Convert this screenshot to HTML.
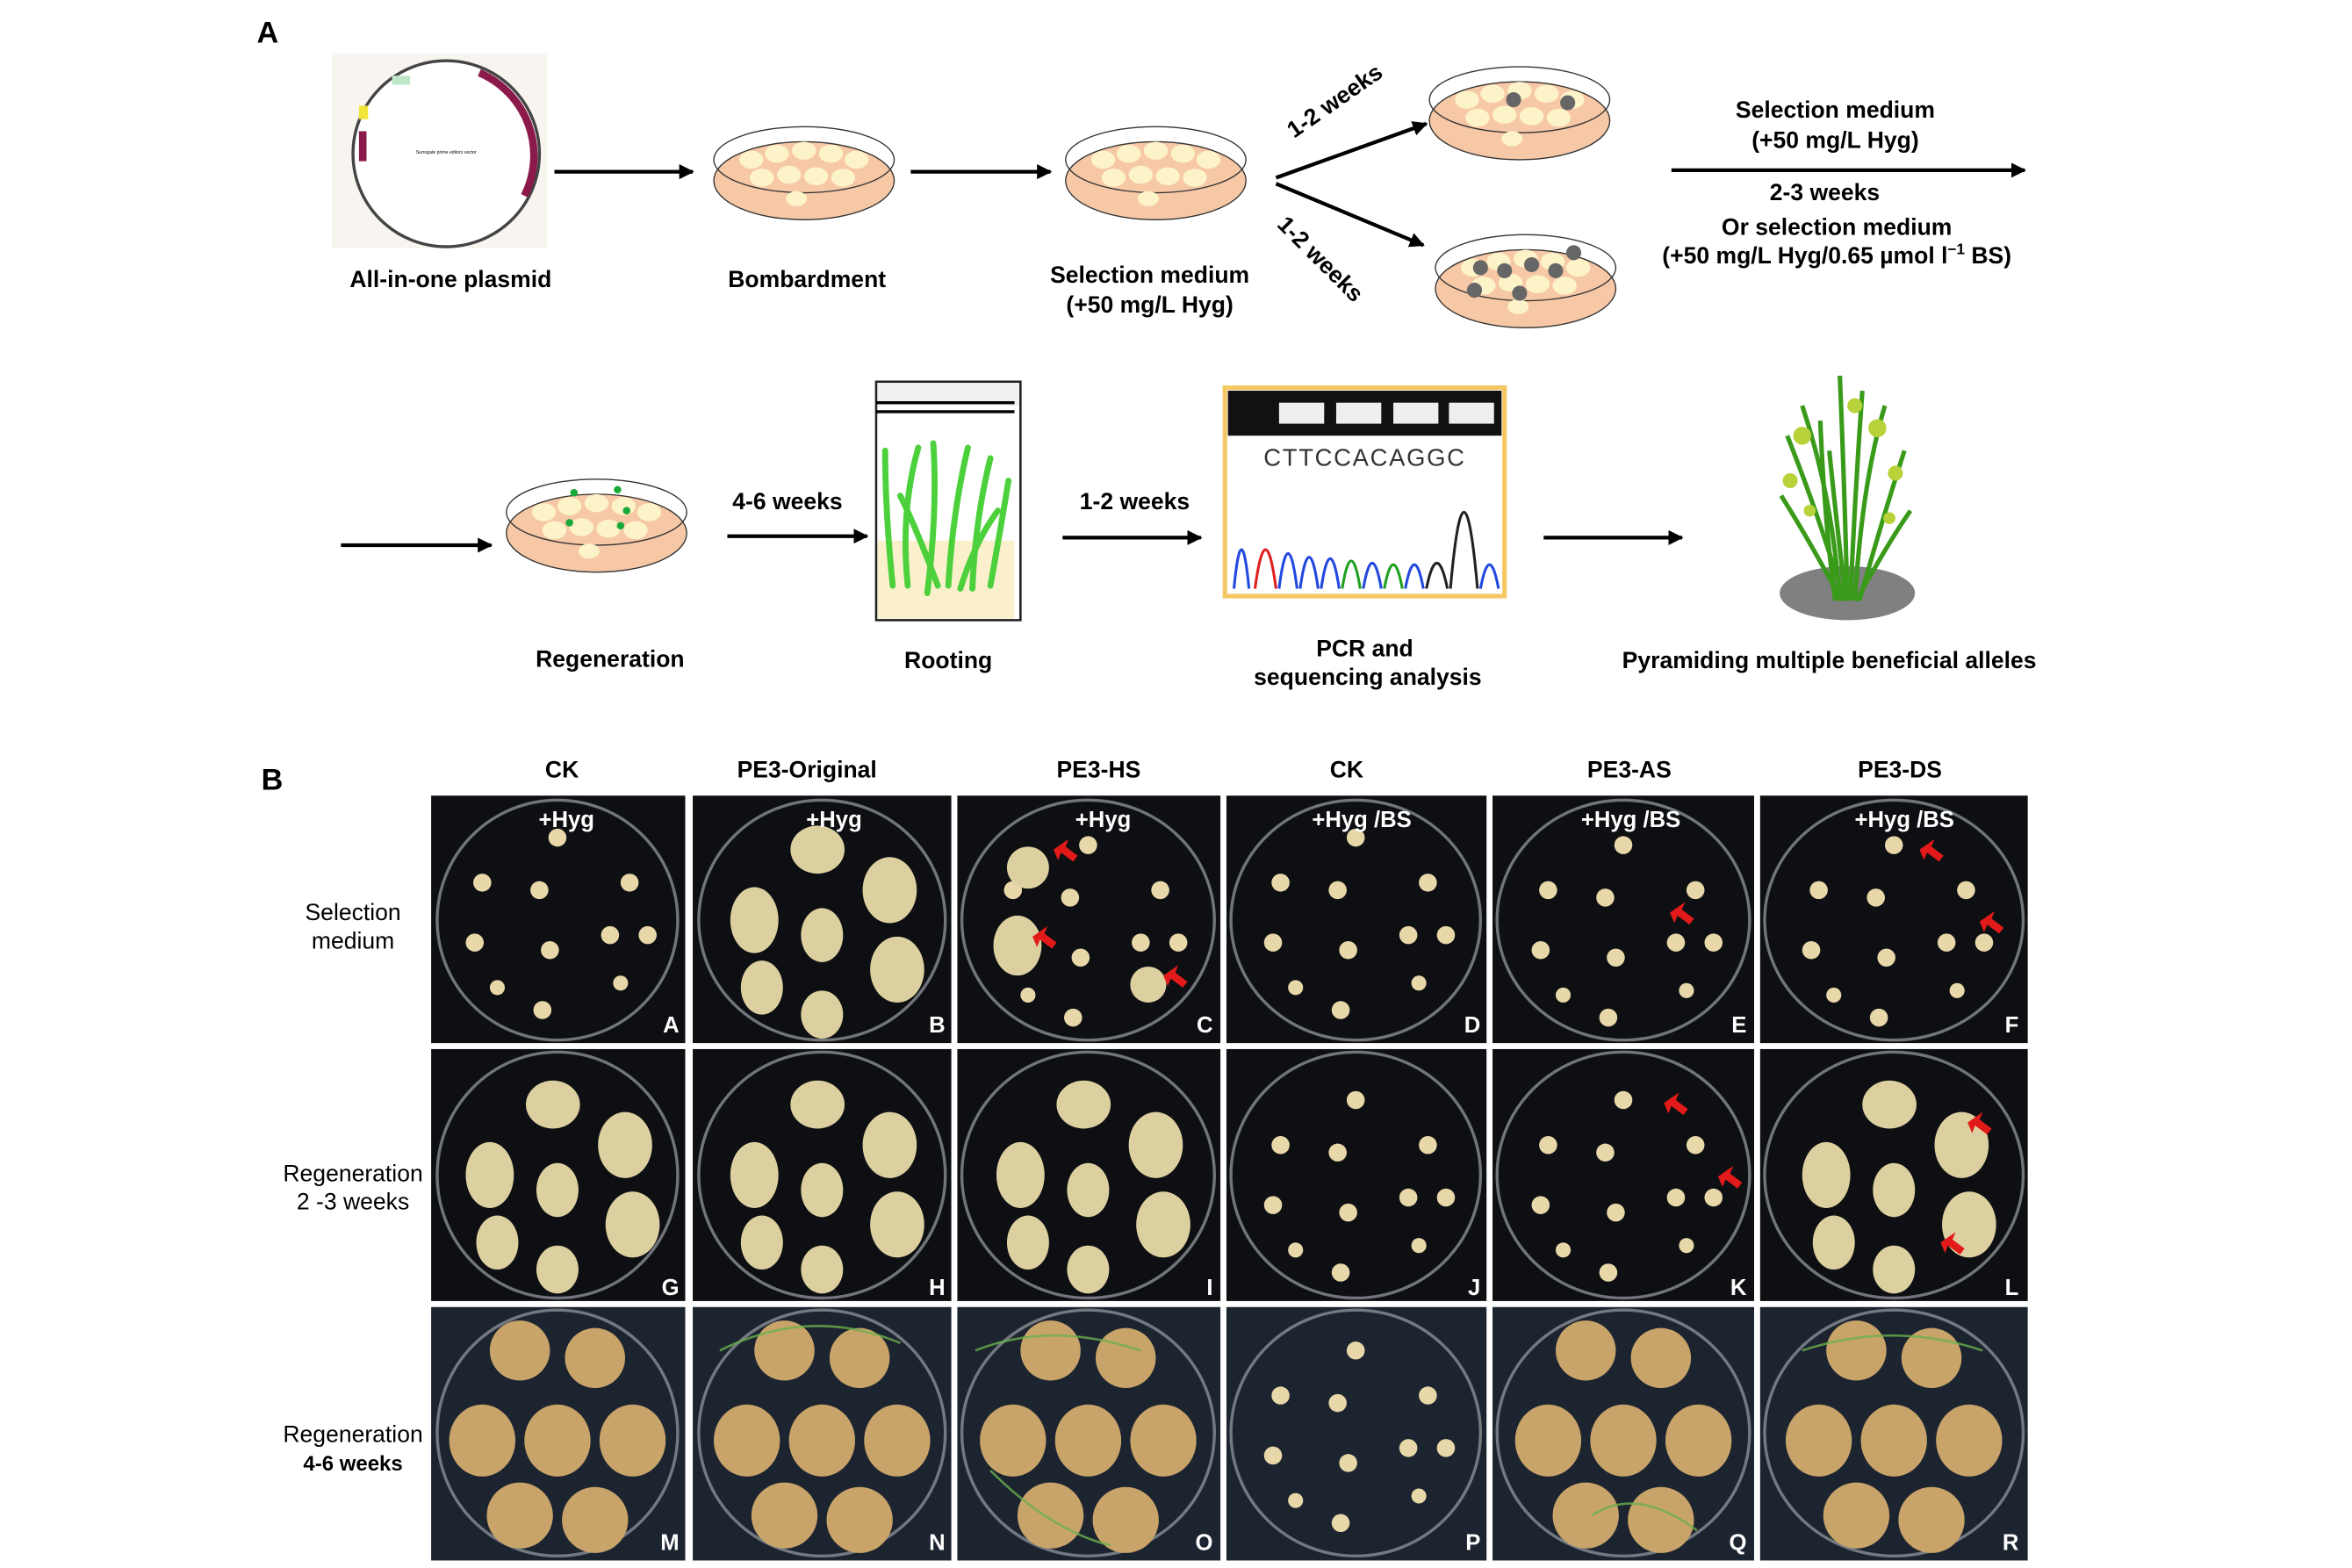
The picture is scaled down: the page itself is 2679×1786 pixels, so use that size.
<!DOCTYPE html>
<html><head><meta charset="utf-8"><style>
html,body{margin:0;padding:0;background:#fff}
svg{display:block}
text{font-family:"Liberation Sans",Arial,sans-serif}
.b{font-weight:bold;font-size:15.5px}
.r{font-size:15.5px}
</style></head><body>
<svg width="2679" height="1786" viewBox="1.2 -0.5 1564.5 1045.5" preserveAspectRatio="none" xmlns="http://www.w3.org/2000/svg">
<defs>
<marker id="ah" markerWidth="10" markerHeight="10" refX="9" refY="5" orient="auto" markerUnits="userSpaceOnUse"><path d="M0,0 L10,5 L0,10 Z" fill="#000"/></marker>
<g id="dish">
<ellipse cx="0" cy="8" rx="60" ry="26" fill="#f6c8a6" stroke="#333" stroke-width="0.8"/>
<ellipse cx="0" cy="-6" rx="60" ry="22" fill="none" stroke="#333" stroke-width="0.8"/>
</g>
<g id="cal" fill="#fdf3c8">
<ellipse cx="-35" cy="-2" rx="8" ry="6"/><ellipse cx="-18" cy="-6" rx="8" ry="6"/><ellipse cx="0" cy="-8" rx="8" ry="6"/><ellipse cx="18" cy="-6" rx="8" ry="6"/><ellipse cx="35" cy="-2" rx="8" ry="6"/>
<ellipse cx="-28" cy="10" rx="8" ry="6"/><ellipse cx="-10" cy="8" rx="8" ry="6"/><ellipse cx="8" cy="9" rx="8" ry="6"/><ellipse cx="26" cy="10" rx="8" ry="6"/>
<ellipse cx="-5" cy="24" rx="7" ry="5"/>
</g>
<g id="blobS" fill="#e8d7a8">
<circle cx="0" cy="-55" r="6"/><circle cx="-50" cy="-25" r="6"/><circle cx="-12" cy="-20" r="6"/><circle cx="48" cy="-25" r="6"/>
<circle cx="-55" cy="15" r="6"/><circle cx="35" cy="10" r="6"/><circle cx="60" cy="10" r="6"/><circle cx="-5" cy="20" r="6"/>
<circle cx="-40" cy="45" r="5"/><circle cx="42" cy="42" r="5"/><circle cx="-10" cy="60" r="6"/>
</g>
<g id="blobL" fill="#ddd0a0">
<ellipse cx="-3" cy="-52" rx="18" ry="16"/><ellipse cx="-45" cy="-5" rx="16" ry="22"/><ellipse cx="45" cy="-25" rx="18" ry="22"/>
<ellipse cx="0" cy="5" rx="14" ry="18"/><ellipse cx="-40" cy="40" rx="14" ry="18"/><ellipse cx="50" cy="28" rx="18" ry="22"/><ellipse cx="0" cy="58" rx="14" ry="16"/>
</g>
<g id="blobR" fill="#c9a46a">
<ellipse cx="-25" cy="-55" rx="20" ry="20"/><ellipse cx="25" cy="-50" rx="20" ry="20"/><ellipse cx="-50" cy="5" rx="22" ry="24"/>
<ellipse cx="0" cy="5" rx="22" ry="24"/><ellipse cx="50" cy="5" rx="22" ry="24"/><ellipse cx="-25" cy="55" rx="22" ry="22"/><ellipse cx="25" cy="58" rx="22" ry="22"/>
</g>
<g id="arr" fill="#e31a1a"><path d="M0,0 L10,-7 L8,-2 L16,4 L13,8 L5,2 L3,7 Z"/></g>
</defs>

<!-- Part A -->
<text x="172" y="28" font-size="20" font-weight="bold">A</text>
<rect x="222" y="35" width="143" height="130" fill="#f8f5f0"/>
<ellipse cx="298" cy="102" rx="62" ry="62" fill="#fff" stroke="#444" stroke-width="2"/>
<path d="M320,48 A60,60 0 0 1 350,130" fill="none" stroke="#8b1a4a" stroke-width="5"/>
<rect x="240" y="87" width="5" height="20" fill="#8b1a4a"/>
<rect x="240" y="70" width="6" height="9" fill="#f3e53a"/>
<rect x="262" y="50" width="12" height="6" fill="#bfe8c8"/>
<text x="298" y="102" font-size="3" text-anchor="middle">Surrogate prime editors vector</text>
<line x1="370" y1="114" x2="462" y2="114" stroke="#000" stroke-width="2.5" marker-end="url(#ah)"/>
<use href="#dish" x="536" y="112"/><use href="#cal" x="536" y="108"/>
<line x1="607" y1="114" x2="700" y2="114" stroke="#000" stroke-width="2.5" marker-end="url(#ah)"/>
<use href="#dish" x="770" y="112"/><use href="#cal" x="770" y="108"/>
<line x1="850" y1="118" x2="950" y2="82" stroke="#000" stroke-width="2.5" marker-end="url(#ah)"/>
<line x1="850" y1="122" x2="948" y2="163" stroke="#000" stroke-width="2.5" marker-end="url(#ah)"/>
<text class="b" transform="translate(862,92) rotate(-35)">1-2 weeks</text>
<text class="b" transform="translate(850,150) rotate(45)">1-2 weeks</text>
<use href="#dish" x="1012" y="72"/><use href="#cal" x="1012" y="68"/>
<circle cx="1008" cy="66" r="5" fill="#666"/><circle cx="1044" cy="68" r="5" fill="#666"/>
<use href="#dish" x="1016" y="184"/><use href="#cal" x="1016" y="180"/>
<g fill="#666"><circle cx="986" cy="178" r="5"/><circle cx="1002" cy="180" r="5"/><circle cx="1020" cy="176" r="5"/><circle cx="1036" cy="180" r="5"/><circle cx="982" cy="193" r="5"/><circle cx="1012" cy="195" r="5"/><circle cx="1048" cy="168" r="5"/></g>
<line x1="1113" y1="113" x2="1348" y2="113" stroke="#000" stroke-width="2.5" marker-end="url(#ah)"/>
<text class="b" x="1222" y="78" text-anchor="middle">Selection  medium</text>
<text class="b" x="1222" y="98" text-anchor="middle">(+50 mg/L Hyg)</text>
<text class="b" x="1215" y="133" text-anchor="middle">2-3 weeks</text>
<text class="b" x="1223" y="156" text-anchor="middle">Or selection  medium</text>
<text class="b" x="1223" y="175" text-anchor="middle">(+50 mg/L Hyg/0.65 µmol l<tspan dy="-6" font-size="10">−1</tspan><tspan dy="6"> BS)</tspan></text>
<text class="b" x="301" y="191" text-anchor="middle">All-in-one plasmid</text>
<text class="b" x="538" y="191" text-anchor="middle">Bombardment</text>
<text class="b" x="766" y="188" text-anchor="middle">Selection  medium</text>
<text class="b" x="766" y="208" text-anchor="middle">(+50 mg/L Hyg)</text>

<line x1="228" y1="363" x2="328" y2="363" stroke="#000" stroke-width="2.5" marker-end="url(#ah)"/>
<use href="#dish" x="398" y="347"/><use href="#cal" x="398" y="343"/>
<g fill="#1aa838"><circle cx="383" cy="328" r="2.5"/><circle cx="412" cy="326" r="2.5"/><circle cx="418" cy="340" r="2.5"/><circle cx="380" cy="348" r="2.5"/><circle cx="414" cy="350" r="2.5"/></g>
<text class="b" x="525" y="339" text-anchor="middle">4-6 weeks</text>
<line x1="485" y1="357" x2="578" y2="357" stroke="#000" stroke-width="2.5" marker-end="url(#ah)"/>
<rect x="584" y="254" width="96" height="159" fill="#fff" stroke="#222" stroke-width="1.5"/>
<rect x="585" y="255" width="94" height="15" fill="#f0f0f0"/>
<line x1="584" y1="268" x2="676" y2="268" stroke="#000" stroke-width="2"/>
<line x1="584" y1="274" x2="676" y2="274" stroke="#000" stroke-width="2"/>
<rect x="585" y="360" width="91" height="52" fill="#fbf0cc"/>
<g stroke="#4cd13c" stroke-width="4" fill="none" stroke-linecap="round">
<path d="M595,390 Q590,340 590,300"/><path d="M605,390 Q600,340 612,298"/><path d="M618,395 Q625,340 622,295"/><path d="M632,390 Q635,340 645,298"/><path d="M648,392 Q650,345 660,305"/><path d="M660,390 Q668,345 672,320"/><path d="M625,390 Q610,350 600,330"/><path d="M640,392 Q650,360 665,340"/>
</g>
<text class="b" x="756" y="339" text-anchor="middle">1-2 weeks</text>
<line x1="708" y1="358" x2="800" y2="358" stroke="#000" stroke-width="2.5" marker-end="url(#ah)"/>
<rect x="816" y="258" width="186" height="139" fill="#fff" stroke="#f5c760" stroke-width="3"/>
<rect x="818" y="260" width="182" height="30" fill="#111"/>
<g fill="#eee"><rect x="852" y="268" width="30" height="14"/><rect x="890" y="268" width="30" height="14"/><rect x="928" y="268" width="30" height="14"/><rect x="965" y="268" width="30" height="14"/></g>
<text x="909" y="310" font-size="16" font-family="Liberation Mono" text-anchor="middle" fill="#333" letter-spacing="1">CTTCCACAGGC</text>
<g fill="none" stroke-width="1.8">
<path d="M822,392 Q827,340 832,392" stroke="#2248e0"/><path d="M836,392 Q843,340 850,392" stroke="#e02020"/><path d="M852,392 Q858,345 864,392" stroke="#2248e0"/><path d="M866,392 Q872,350 878,392" stroke="#2248e0"/><path d="M880,392 Q886,352 892,392" stroke="#2248e0"/><path d="M894,392 Q900,355 906,392" stroke="#20a020"/><path d="M908,392 Q914,358 920,392" stroke="#2248e0"/><path d="M922,392 Q928,360 934,392" stroke="#20a020"/><path d="M936,392 Q942,360 948,392" stroke="#2248e0"/><path d="M950,392 Q957,358 964,392" stroke="#222"/><path d="M966,392 Q975,290 984,392" stroke="#222"/><path d="M986,392 Q992,360 998,392" stroke="#2248e0"/>
</g>
<line x1="1028" y1="358" x2="1120" y2="358" stroke="#000" stroke-width="2.5" marker-end="url(#ah)"/>
<ellipse cx="1230" cy="395" rx="45" ry="18" fill="#808080"/>
<g stroke="#3a9a1a" stroke-width="3" fill="none">
<path d="M1225,400 Q1220,330 1200,270"/><path d="M1230,400 Q1228,320 1225,250"/><path d="M1235,400 Q1240,320 1255,270"/><path d="M1228,400 Q1210,340 1190,290"/><path d="M1238,400 Q1255,340 1268,300"/><path d="M1232,400 Q1235,330 1240,260"/><path d="M1222,400 Q1215,350 1212,280"/>
<path d="M1226,400 Q1205,360 1186,330"/><path d="M1236,400 Q1258,360 1272,340"/><path d="M1229,400 Q1222,340 1218,300"/>
</g>
<g fill="#b8d23a"><circle cx="1200" cy="290" r="6"/><circle cx="1250" cy="285" r="6"/><circle cx="1262" cy="315" r="5"/><circle cx="1192" cy="320" r="5"/><circle cx="1235" cy="270" r="5"/><circle cx="1205" cy="340" r="4"/><circle cx="1258" cy="345" r="4"/></g>
<text class="b" x="407" y="444" text-anchor="middle">Regeneration</text>
<text class="b" x="632" y="445" text-anchor="middle">Rooting</text>
<text class="b" x="909" y="437" text-anchor="middle">PCR and</text>
<text class="b" x="911" y="456" text-anchor="middle">sequencing analysis</text>
<text class="b" x="1218" y="445" text-anchor="middle">Pyramiding multiple beneficial alleles</text>

<!-- Part B -->
<text x="175" y="526" font-size="20" font-weight="bold">B</text>
<g class="b" text-anchor="middle">
<text x="375" y="518">CK</text><text x="538" y="518">PE3-Original</text><text x="732" y="518">PE3-HS</text><text x="897" y="518">CK</text><text x="1085" y="518">PE3-AS</text><text x="1265" y="518">PE3-DS</text>
</g>
<g class="r" text-anchor="middle">
<text x="236" y="613">Selection</text><text x="236" y="632">medium</text>
<text x="236" y="787">Regeneration</text><text x="236" y="806">2 -3 weeks</text>
<text x="236" y="961">Regeneration</text><text x="236" y="980" font-weight="bold" font-size="14">4-6 weeks</text>
</g>

<!-- grid photos -->
<g fill="#0d0f12">
<rect x="288" y="530" width="169" height="165"/><rect x="462" y="530" width="172" height="165"/><rect x="638" y="530" width="175" height="165"/><rect x="817" y="530" width="173" height="165"/><rect x="994" y="530" width="174" height="165"/><rect x="1172" y="530" width="178" height="165"/>
<rect x="288" y="699" width="169" height="168"/><rect x="462" y="699" width="172" height="168"/><rect x="638" y="699" width="175" height="168"/><rect x="817" y="699" width="173" height="168"/><rect x="994" y="699" width="174" height="168"/><rect x="1172" y="699" width="178" height="168"/>
</g>
<g fill="#1c2430">
<rect x="288" y="871" width="169" height="169"/><rect x="462" y="871" width="172" height="169"/><rect x="638" y="871" width="175" height="169"/><rect x="817" y="871" width="173" height="169"/><rect x="994" y="871" width="174" height="169"/><rect x="1172" y="871" width="178" height="169"/>
</g>
<g fill="none" stroke="#8a8f95" stroke-width="2" opacity="0.8">
<ellipse cx="372" cy="613" rx="80" ry="80"/><ellipse cx="548" cy="613" rx="82" ry="80"/><ellipse cx="725" cy="613" rx="84" ry="80"/><ellipse cx="903" cy="613" rx="83" ry="80"/><ellipse cx="1081" cy="613" rx="84" ry="80"/><ellipse cx="1261" cy="613" rx="86" ry="80"/>
<ellipse cx="372" cy="783" rx="80" ry="82"/><ellipse cx="548" cy="783" rx="82" ry="82"/><ellipse cx="725" cy="783" rx="84" ry="82"/><ellipse cx="903" cy="783" rx="83" ry="82"/><ellipse cx="1081" cy="783" rx="84" ry="82"/><ellipse cx="1261" cy="783" rx="86" ry="82"/>
<ellipse cx="372" cy="955" rx="80" ry="82"/><ellipse cx="548" cy="955" rx="82" ry="82"/><ellipse cx="725" cy="955" rx="84" ry="82"/><ellipse cx="903" cy="955" rx="83" ry="82"/><ellipse cx="1081" cy="955" rx="84" ry="82"/><ellipse cx="1261" cy="955" rx="86" ry="82"/>
</g>
<use href="#blobS" x="372" y="613"/><use href="#blobL" x="548" y="618"/><use href="#blobS" x="725" y="618"/><use href="#blobS" x="903" y="613"/><use href="#blobS" x="1081" y="618"/><use href="#blobS" x="1261" y="618"/>
<g fill="#ddd0a0"><ellipse cx="685" cy="578" rx="14" ry="14"/><ellipse cx="678" cy="630" rx="16" ry="20"/><ellipse cx="765" cy="656" rx="12" ry="12"/></g>
<use href="#blobL" x="372" y="788"/><use href="#blobL" x="548" y="788"/><use href="#blobL" x="725" y="788"/><use href="#blobS" x="903" y="788"/><use href="#blobS" x="1081" y="788"/><use href="#blobL" x="1261" y="788"/>
<use href="#blobR" x="372" y="955"/><use href="#blobR" x="548" y="955"/><use href="#blobR" x="725" y="955"/><use href="#blobS" x="903" y="955"/><use href="#blobR" x="1081" y="955"/><use href="#blobR" x="1261" y="955"/>
<g stroke="#6ab04c" stroke-width="1.5" fill="none" opacity="0.8">
<path d="M480,900 Q540,870 600,895"/><path d="M650,900 Q700,880 760,900"/><path d="M660,980 Q700,1020 740,1030"/><path d="M1060,1010 Q1090,990 1130,1020"/><path d="M1200,900 Q1260,880 1320,900"/>
</g>
<use href="#arr" x="702" y="566"/><use href="#arr" x="688" y="624"/><use href="#arr" x="775" y="650"/>
<use href="#arr" x="1112" y="608"/><use href="#arr" x="1278" y="566"/><use href="#arr" x="1318" y="614"/>
<use href="#arr" x="1108" y="735"/><use href="#arr" x="1144" y="784"/><use href="#arr" x="1310" y="748"/><use href="#arr" x="1292" y="828"/>
<g fill="#fff" font-weight="bold" font-size="15" text-anchor="middle">
<text x="378" y="551">+Hyg</text><text x="556" y="551">+Hyg</text><text x="735" y="551">+Hyg</text><text x="907" y="551">+Hyg /BS</text><text x="1086" y="551">+Hyg /BS</text><text x="1268" y="551">+Hyg /BS</text>
</g>
<g fill="#fff" font-weight="bold" font-size="15" text-anchor="end">
<text x="453" y="688">A</text><text x="630" y="688">B</text><text x="808" y="688">C</text><text x="986" y="688">D</text><text x="1163" y="688">E</text><text x="1344" y="688">F</text>
<text x="453" y="863">G</text><text x="630" y="863">H</text><text x="808" y="863">I</text><text x="986" y="863">J</text><text x="1163" y="863">K</text><text x="1344" y="863">L</text>
<text x="453" y="1033">M</text><text x="630" y="1033">N</text><text x="808" y="1033">O</text><text x="986" y="1033">P</text><text x="1163" y="1033">Q</text><text x="1344" y="1033">R</text>
</g>
</svg>
</body></html>
